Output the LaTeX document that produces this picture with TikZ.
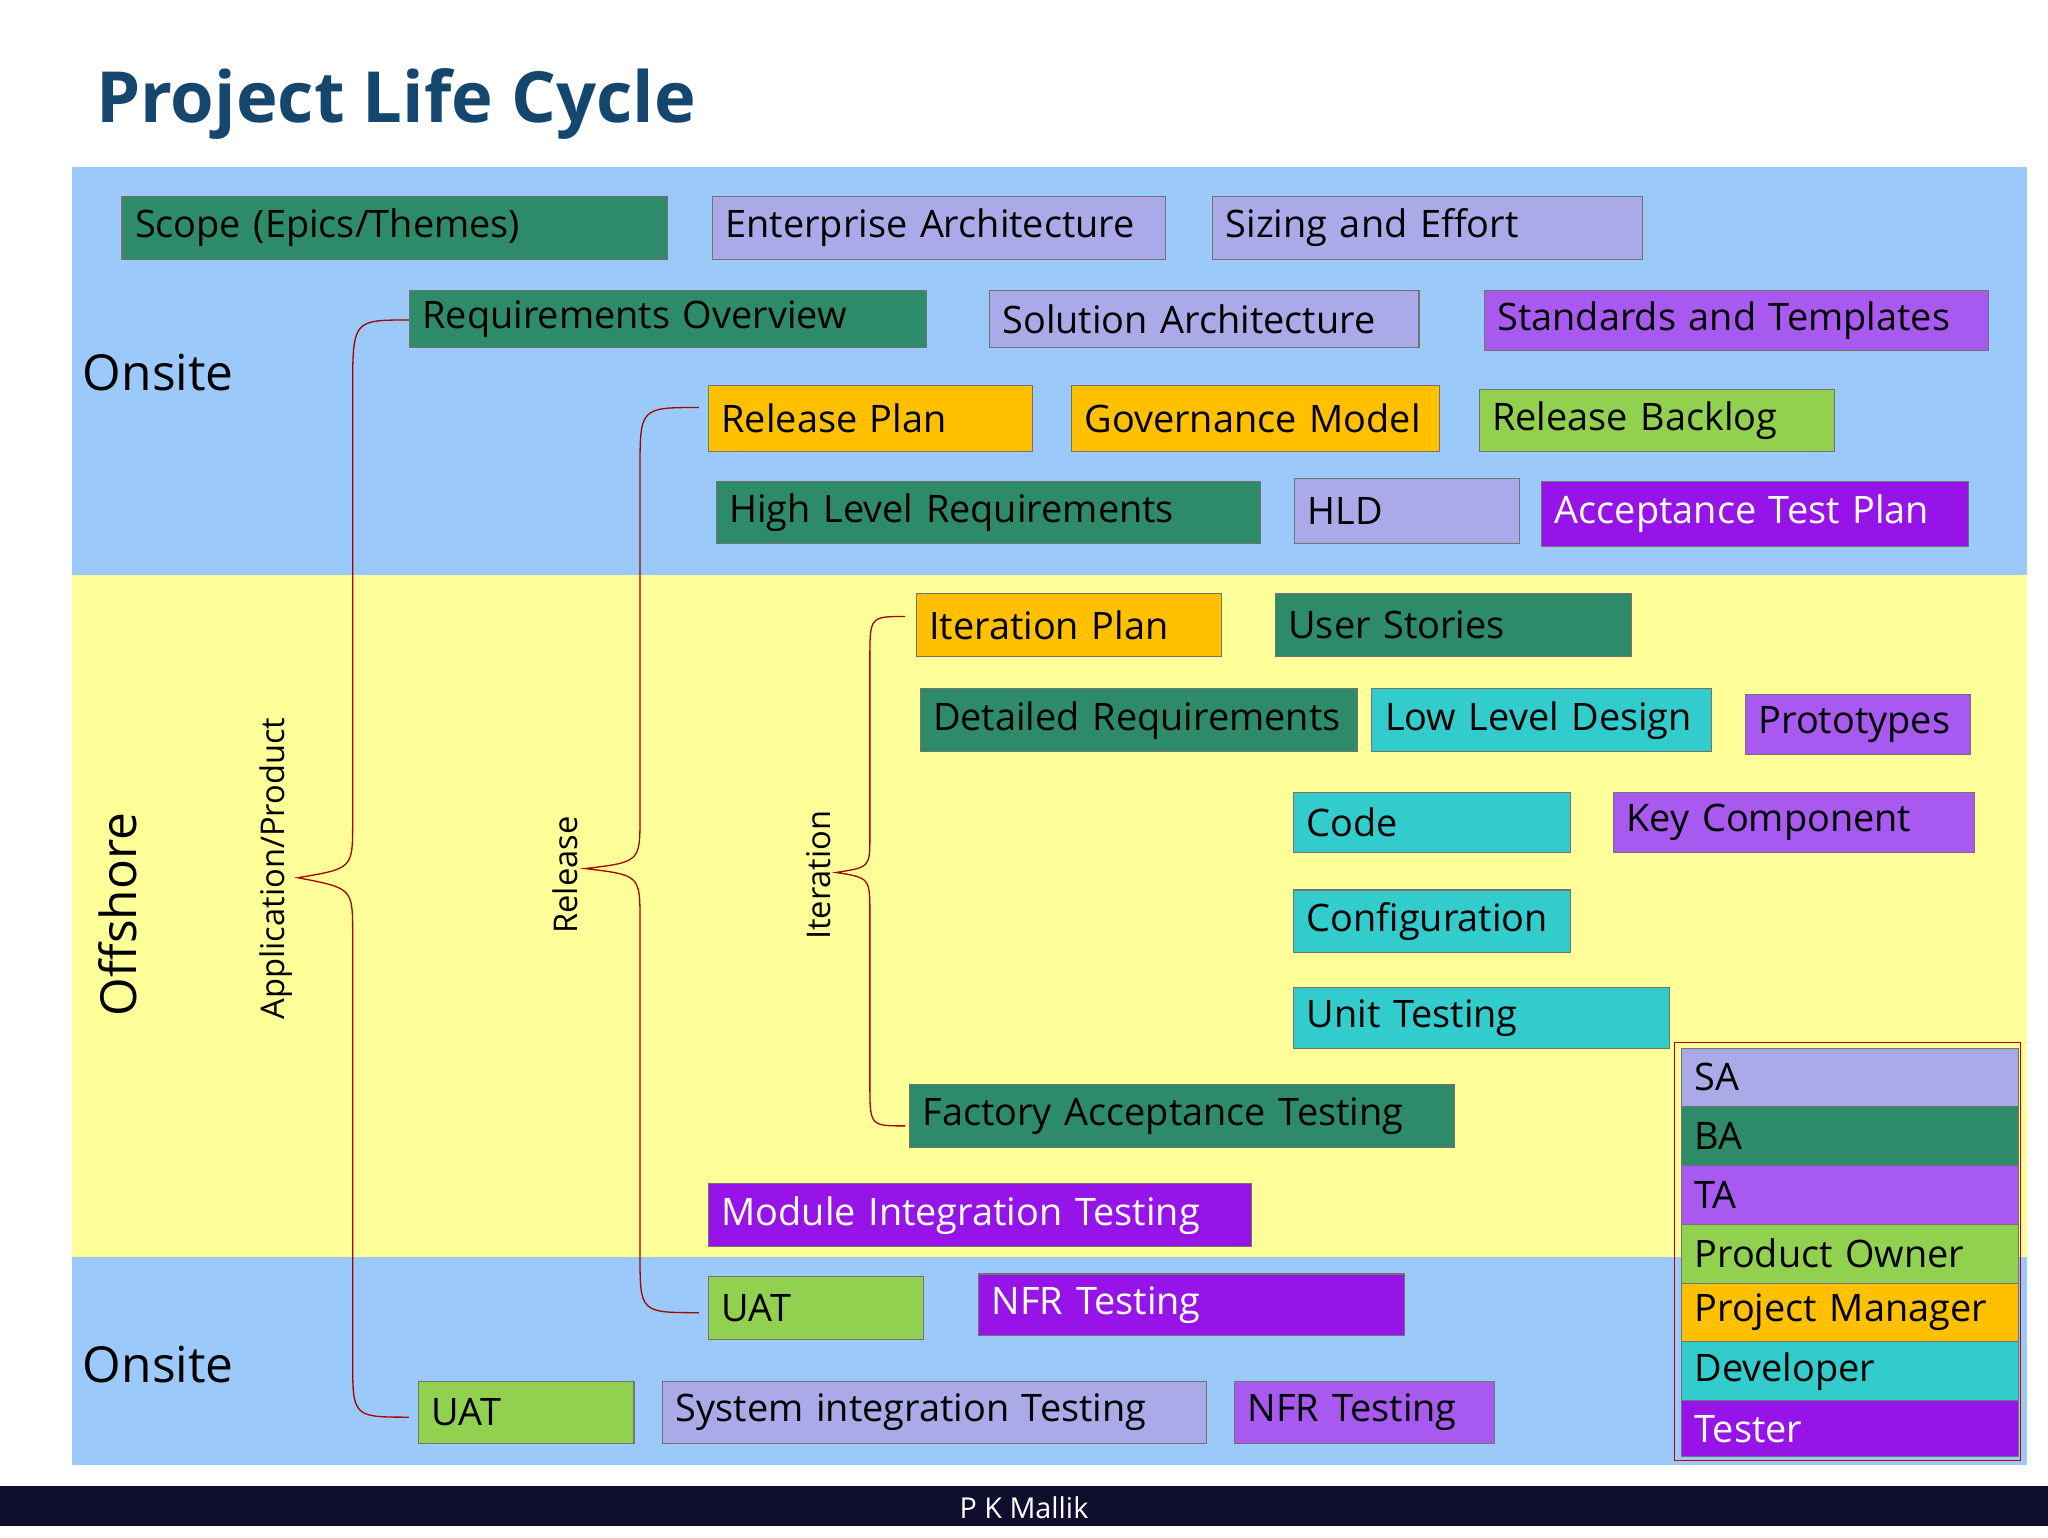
\documentclass[tikz,border=0pt]{standalone}
\usepackage{fontspec}
\setmainfont{Open Sans}
\definecolor{bandblue}{RGB}{155,202,250}
\definecolor{bandyellow}{RGB}{255,255,153}
\definecolor{cgreen}{RGB}{46,139,106}
\definecolor{clav}{RGB}{170,170,232}
\definecolor{cpurp}{RGB}{168,90,240}
\definecolor{cmag}{RGB}{150,20,232}
\definecolor{corange}{RGB}{255,192,0}
\definecolor{clgreen}{RGB}{146,208,80}
\definecolor{ccyan}{RGB}{51,204,204}
\definecolor{titleblue}{RGB}{20,70,110}
\definecolor{navy}{RGB}{15,15,45}
\tikzset{
 box/.style={draw=black!55, line width=0.8pt, anchor=north west, inner xsep=10pt, inner ysep=0pt, align=left, font=\fontsize{29}{32}\selectfont},
 brace/.style={draw=red!65!black, line width=1pt},
 side/.style={font=\fontsize{38}{42}\selectfont},
 vlab/.style={font=\fontsize{25}{28}\selectfont, rotate=90}
}
\newcommand{\bx}[7]{\node[box,#6, minimum height={(#5-#3)*1pt}, text width={(#4-#2-20)*1pt}] (#1) at (#2,#3) {#7};}
\begin{document}
\begin{tikzpicture}[x=1pt,y=-1pt]
\useasboundingbox (0,0) rectangle (1568,1177);
\fill[white] (0,0) rectangle (1568,1177);
\fill[bandblue] (55,128) rectangle (1552,440);
\fill[bandyellow] (55,440) rectangle (1552,962);
\fill[bandblue] (55,962) rectangle (1552,1122);
\fill[navy] (0,1138) rectangle (1568,1168);
\node[text=white, font=\fontsize{22}{24}\selectfont] (foot) at (784,1154) {P K Mallik};
\node[anchor=west, text=titleblue, font=\bfseries\fontsize{54}{60}\selectfont] (title) at (70,80) {Project Life Cycle};
\node[side, anchor=west] (on1) at (60,285) {Onsite};
\node[side, anchor=west] (on2) at (60,1045) {Onsite};
\node[side, rotate=90] (off) at (90,700) {Offshore};
\node[vlab] (app) at (211,665) {Application/Product};
\node[vlab] (rel) at (433,670) {Release};
\node[vlab] (itr) at (627,670) {Iteration};
% braces
\coordinate (a1) at (313,245); \coordinate (a2) at (228,672); \coordinate (a3) at (313,1085);
\draw[brace] (a1) .. controls (270,245) .. (270,300) -- (270,630) .. controls (270,665) .. (a2) .. controls (270,680) .. (270,715) -- (270,1040) .. controls (270,1085) .. (a3);
\coordinate (r1) at (535,312); \coordinate (r2) at (448,665); \coordinate (r3) at (535,1005);
\draw[brace] (r1) .. controls (490,312) .. (490,360) -- (490,625) .. controls (490,660) .. (r2) .. controls (490,670) .. (490,705) -- (490,960) .. controls (490,1005) .. (r3);
\coordinate (i1) at (693,472); \coordinate (i2) at (640,668); \coordinate (i3) at (693,862);
\draw[brace] (i1) .. controls (666,472) .. (666,505) -- (666,640) .. controls (666,664) .. (i2) .. controls (666,672) .. (666,700) -- (666,830) .. controls (666,862) .. (i3);
% boxes
\bx{b1}{93}{150}{511}{198}{fill=cgreen}{Scope (Epics/Themes)}
\bx{b2}{545}{150}{892}{198}{fill=clav}{Enterprise Architecture}
\bx{b3}{928}{150}{1257}{198}{fill=clav}{Sizing and Effort}
\bx{b4}{313}{222}{709}{266}{fill=cgreen}{Requirements Overview}
\bx{b5}{757}{222}{1086}{266}{fill=clav}{Solution Architecture}
\bx{b6}{1136}{222}{1522}{268}{fill=cpurp}{Standards and Templates}
\bx{b7}{542}{295}{790}{345}{fill=corange}{Release Plan}
\bx{b8}{820}{295}{1102}{345}{fill=corange}{Governance Model}
\bx{b9}{1132}{298}{1404}{345}{fill=clgreen}{Release Backlog}
\bx{b10}{548}{368}{965}{416}{fill=cgreen}{High Level Requirements}
\bx{b11}{991}{366}{1163}{416}{fill=clav}{HLD}
\bx{b12}{1180}{368}{1507}{418}{fill=cmag,text=white}{Acceptance Test Plan}
\bx{b13}{701}{454}{935}{502}{fill=corange}{Iteration Plan}
\bx{b14}{976}{454}{1249}{502}{fill=cgreen}{User Stories}
\bx{b15}{704}{527}{1039}{575}{fill=cgreen}{Detailed Requirements}
\bx{b16}{1050}{527}{1310}{575}{fill=ccyan}{Low Level Design}
\bx{b17}{1336}{531}{1508}{577}{fill=cpurp}{Prototypes}
\bx{b18}{990}{606}{1202}{652}{fill=ccyan}{Code}
\bx{b19}{1235}{606}{1511}{652}{fill=cpurp}{Key Component}
\bx{b20}{990}{681}{1202}{729}{fill=ccyan}{Configuration}
\bx{b21}{990}{756}{1278}{802}{fill=ccyan}{Unit Testing}
\bx{b22}{696}{830}{1113}{878}{fill=cgreen}{Factory Acceptance Testing}
\bx{b23}{542}{906}{958}{954}{fill=cmag,text=white}{Module Integration Testing}
\bx{b24}{542}{977}{707}{1025}{fill=clgreen}{UAT}
\bx{b25}{749}{975}{1075}{1022}{fill=cmag,text=white}{NFR Testing}
\bx{b26}{320}{1057}{485}{1105}{fill=clgreen}{UAT}
\bx{b27}{507}{1057}{923}{1105}{fill=clav}{System integration Testing}
\bx{b28}{945}{1057}{1144}{1105}{fill=cpurp}{NFR Testing}
% legend
\fill[bandyellow] (1282,798) rectangle (1547,962);
\bx{l1}{1287}{802}{1545}{847}{fill=clav}{SA}
\bx{l2}{1287}{847}{1545}{892}{fill=cgreen}{BA}
\bx{l3}{1287}{892}{1545}{937}{fill=cpurp}{TA}
\bx{l4}{1287}{937}{1545}{982}{fill=clgreen}{Product Owner}
\bx{l5}{1287}{982}{1545}{1027}{fill=corange}{Project Manager}
\bx{l6}{1287}{1027}{1545}{1072}{fill=ccyan}{Developer}
\bx{l7}{1287}{1072}{1545}{1115}{fill=cmag,text=white}{Tester}
\draw[red!75!black, line width=1pt] (1282,798) rectangle (1547,1118);
\end{tikzpicture}
\end{document}
